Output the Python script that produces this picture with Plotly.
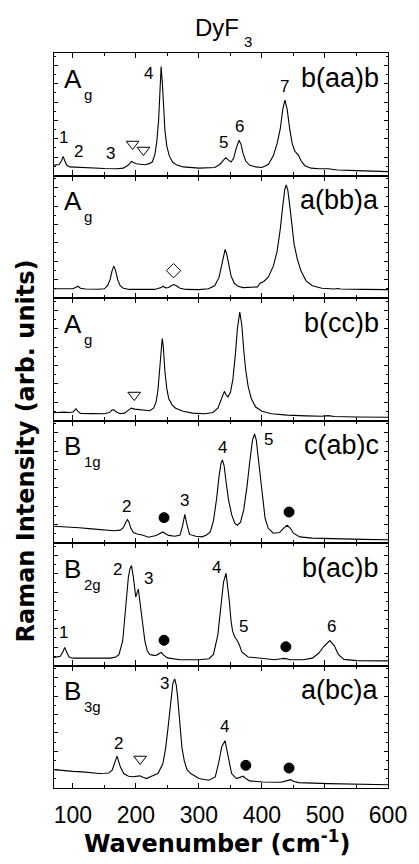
import plotly.graph_objects as go
from plotly.subplots import make_subplots

# ---------------- data (wavenumber cm^-1, intensity in arb. units, per panel 0-100) ----------------
spec_aa = [(70, 8.5), (78, 9), (82, 12), (84.5, 15.6), (87, 12), (90, 8.5), (95, 7), (110, 6.5), (130, 6),
           (150, 5.7), (170, 5.5), (180, 6), (188, 8.5), (193, 11.5), (197, 10.5), (201, 9.6), (207, 9.2),
           (214, 8.8), (220, 9.5), (226, 11), (230, 17), (233, 27), (236, 45), (238, 64), (240, 89), (242, 75),
           (244, 53), (246, 37), (249, 24), (253, 16), (258, 11), (265, 8.5), (275, 7), (300, 6), (325, 6.5),
           (333, 9), (338, 12), (342.5, 14.5), (347, 12.5), (351, 11), (355, 14), (359, 22), (363.8, 28.8),
           (367, 25), (370, 18), (374, 12), (380, 8.5), (390, 7), (400, 6.5), (410, 9), (418, 16), (424, 26),
           (429, 38), (433, 54), (436.5, 61.6), (440, 54), (444, 38), (448, 26), (452, 20), (456, 17),
           (458, 16.5), (462, 12), (468, 8), (478, 6), (490, 5.5), (505, 5.5), (520, 4.5), (550, 4),
           (575, 3.5), (600, 3.2)]

spec_bb = [(70, 7.5), (90, 7.3), (100, 7.5), (104, 8.5), (108, 9.6), (112, 8), (120, 7.3), (140, 7.2),
           (150, 7.5), (155, 10), (159, 15), (162, 22), (165, 26), (168, 22), (171, 15), (175, 10), (180, 8),
           (190, 7), (210, 6.8), (230, 7), (240, 8.5), (243, 9.6), (247, 8.3), (252, 8.6), (256, 10),
           (260, 11), (264, 10), (270, 8), (280, 7), (300, 6.8), (315, 7.5), (325, 10), (332, 17), (336, 27),
           (339, 36), (341.5, 39.7), (344, 36), (347, 27), (351, 18), (356, 12), (362, 9.5), (370, 8.5),
           (385, 8.5), (393, 9), (397, 12), (403, 13.5), (410, 17), (418, 26), (424, 38), (429, 56),
           (433, 75), (436, 88), (438.5, 92.3), (441, 88), (444, 76), (447, 60), (451, 44), (456, 32),
           (462, 22), (470, 14), (480, 10), (495, 8), (515, 7.3), (520, 7.8), (525, 7.3), (560, 7), (600, 6.8)]

spec_cc = [(70, 6.3), (85, 6.8), (95, 6.5), (100, 7), (103, 8.5), (105, 9.6), (108, 7.5), (112, 5.8),
           (130, 5.6), (150, 5.5), (158, 6.5), (162, 8.5), (165, 8.8), (169, 7), (175, 5.5), (182, 6),
           (188, 8.5), (193, 10.1), (198, 9.3), (205, 8.8), (214, 8.3), (222, 8), (228, 10), (232, 15),
           (235, 25), (238, 45), (240, 62), (241.7, 67), (243.5, 60), (246, 40), (249, 26), (252, 18),
           (257, 13), (263, 10), (275, 7.5), (290, 6), (310, 5.5), (322, 6.5), (330, 10), (335, 17),
           (338, 22), (340.4, 23.8), (343, 21), (346, 19.2), (350, 23), (354, 34), (358, 55), (361, 75),
           (364.8, 88.5), (368, 78), (371, 58), (374, 42), (378, 28), (383, 18), (390, 11), (400, 7.5),
           (415, 5.5), (440, 4.4), (470, 3.8), (495, 3.5), (505, 4), (515, 3.3), (550, 2.9), (600, 2.7)]

spec_ab = [(70, 13.7), (90, 13.3), (110, 12.5), (130, 11.5), (150, 10.5), (165, 10), (175, 10.5),
           (180, 12.5), (184, 17), (186.7, 19.2), (189, 17), (192, 12), (196, 8.5), (202, 7.3), (210, 6.5),
           (220, 4.7), (232, 6.2), (238, 7.5), (242.8, 9), (247, 7.5), (252, 6.2), (262, 5.5), (270, 6.5),
           (274, 14), (277.6, 23.3), (281, 15), (285, 7), (295, 5.5), (305, 5), (312, 6.5), (318, 9),
           (323, 18), (328, 36), (332, 55), (335, 65), (337.3, 67.7), (340, 63), (343, 50), (347, 35),
           (352, 23), (357, 16), (361, 14.5), (366, 17), (371, 27), (376, 45), (381, 68), (385, 84),
           (388.2, 89), (391, 84), (394, 70), (397, 55), (401, 35), (405, 20), (410, 12), (418, 8),
           (428, 8.5), (434, 12), (440, 14.5), (445, 12), (450, 8), (460, 5), (480, 4), (520, 3.3),
           (560, 3), (600, 2.7)]

spec_ac = [(70, 6.6), (80, 7.5), (84, 11), (87, 14.8), (90, 11), (94, 7), (100, 6), (130, 5.8), (160, 6),
           (168, 7), (173, 8.8), (179, 20), (184, 47), (188, 72), (190.5, 79), (193, 81.6), (196, 72),
           (199.7, 56), (203.8, 62.4), (206.5, 52), (209, 42), (212, 30), (214.2, 20), (218, 12), (222, 9),
           (228, 8.3), (233, 8.5), (237, 9.8), (240.2, 10.7), (244, 8.5), (250, 6.2), (270, 4.7), (300, 4.7),
           (316, 5.5), (323, 9), (330, 25), (335, 48), (339, 68), (343, 75.3), (346, 64), (348.2, 52.7),
           (351, 36), (353.4, 28), (357, 23), (360, 21), (364, 17), (368, 11), (378, 7), (400, 5.5),
           (420, 4.7), (430, 5.5), (436.4, 5.8), (445, 4.7), (465, 4.7), (480, 6), (490, 10), (498, 15.5),
           (507.6, 20.3), (515, 16), (521, 9), (530, 5), (550, 4), (600, 3.8)]

spec_bc = [(70, 15), (85, 14.2), (100, 13.6), (115.6, 13.2), (130, 12.5), (141.5, 11.8), (150, 12),
           (157, 12.3), (162.3, 14.5), (166, 20), (170, 26), (173, 21), (175.3, 17.3), (180.5, 11.8),
           (188.3, 9.6), (195, 9.2), (200, 9.5), (206.4, 9.9), (212, 8.5), (216.8, 7.7), (224.6, 9.6),
           (235, 11.8), (242.8, 20), (247, 32), (250.6, 47.4), (253.5, 63), (255.8, 74.8), (258.5, 85),
           (261.5, 89), (264, 84), (266.1, 74.8), (268.5, 60), (270.3, 47.4), (273, 33), (276.5, 22.7),
           (281, 15), (287, 11.8), (300, 7.7), (315.5, 6.3), (325.9, 9), (331.1, 20), (336.2, 33.7),
           (341.4, 38.6), (346.6, 25.5), (351.8, 11.8), (359.6, 7.7), (365, 8.5), (370, 9.6), (375, 7.5),
           (380.4, 5.8), (401.1, 4.9), (430, 4.7), (440, 6), (445.3, 6.8), (450, 5.5), (458.3, 4.4),
           (505, 3.6), (550, 3), (600, 2.7)]

spectra = [spec_aa, spec_bb, spec_cc, spec_ab, spec_ac, spec_bc]
geometry = ["b(aa)b", "a(bb)a", "b(cc)b", "c(ab)c", "b(ac)b", "a(bc)a"]
sym_main = ["A", "A", "A", "B", "B", "B"]
sym_sub = ["g", "g", "g", "1g", "2g", "3g"]

# peak numbers: (text, wavenumber, intensity)
peak_labels = [
    [("1", 84.5, 31.2), ("2", 109.4, 19.2), ("3", 158.9, 18.1), ("4", 219.6, 82.9),
     ("5", 339.2, 26.8), ("6", 364.1, 39.8), ("7", 435.8, 72.5)],
    [],
    [],
    [("2", 185.8, 30), ("3", 277.8, 34.3), ("4", 336.6, 77.8), ("5", 410.9, 84.3)],
    [("1", 84.5, 26.8), ("2", 170.2, 78.5), ("3", 219.6, 71.2), ("4", 327.7, 79.8),
     ("5", 370.4, 32.2), ("6", 509.6, 32.2)],
    [("2", 171.8, 36.7), ("3", 244.6, 85.7), ("4", 340.8, 50.4)],
]

# symbol marks: (symbol, wavenumber, intensity)
symbol_marks = [
    [("triangle-down-open", 194.7, 25.7), ("triangle-down-open", 211.9, 20.8)],
    [("diamond-open", 259.7, 22.3)],
    [("triangle-down-open", 197.3, 20.8)],
    [("circle", 244.6, 20.7), ("circle", 443, 25.3)],
    [("circle", 244.6, 20.6), ("circle", 437.9, 15.3)],
    [("triangle-down-open", 206.7, 23.7), ("circle", 374.4, 18.5), ("circle", 443, 16.3)],
]

x_ticks = [100, 200, 300, 400, 500, 600]
x_minor = [150, 250, 350, 450, 550]

# ---------------- figure ----------------
FONT = "Liberation Sans, Arial, Helvetica, sans-serif"
BOLD = "DejaVu Sans, Liberation Sans, Arial, sans-serif"

fig = make_subplots(rows=6, cols=1, shared_xaxes=True, vertical_spacing=0)

for i, spec in enumerate(spectra):
    row = i + 1
    xs = [p[0] for p in spec]
    ys = [p[1] for p in spec]
    fig.add_trace(go.Scatter(x=xs, y=ys, mode="lines", line=dict(color="black", width=1.1),
                             hoverinfo="skip", showlegend=False), row=row, col=1)
    for sym, sx, sy in symbol_marks[i]:
        size = 10 if sym == "circle" else 11
        fig.add_trace(go.Scatter(x=[sx], y=[sy], mode="markers",
                                 marker=dict(symbol=sym, size=size, color="black",
                                             line=dict(color="black", width=1)),
                                 hoverinfo="skip", showlegend=False), row=row, col=1)

    suffix = "" if row == 1 else str(row)
    xr, yr = "x" + suffix, "y" + suffix
    fig.add_annotation(x=82.5, y=79, xref=xr, yref=yr, text=sym_main[i], showarrow=False,
                       xanchor="left", yanchor="middle", font=dict(family=FONT, size=26, color="black"))
    fig.add_annotation(x=114, y=66.5, xref=xr, yref=yr, text=sym_sub[i], showarrow=False,
                       xanchor="left", yanchor="middle", font=dict(family=FONT, size=15, color="black"))
    fig.add_annotation(x=589, y=80, xref=xr, yref=yr, text=geometry[i], showarrow=False,
                       xanchor="right", yanchor="middle", font=dict(family=FONT, size=27, color="black"))
    for txt, lx, ly in peak_labels[i]:
        fig.add_annotation(x=lx, y=ly, xref=xr, yref=yr, text=txt, showarrow=False,
                           xanchor="center", yanchor="middle",
                           font=dict(family=FONT, size=17, color="black"))

for row in range(1, 7):
    fig.update_xaxes(range=[70, 600], tickvals=x_ticks, ticks="inside", ticklen=5, tickwidth=1,
                     tickcolor="black", showline=True, linecolor="black", linewidth=1.2,
                     mirror="ticks", showgrid=False, zeroline=False,
                     minor=dict(tickvals=x_minor, ticks="inside", ticklen=3,
                                tickcolor="black", showgrid=False),
                     showticklabels=(row == 6), row=row, col=1)
    fig.update_yaxes(range=[0, 100], tick0=0, dtick=15, ticks="inside", ticklen=4, tickwidth=1,
                     tickcolor="black", showline=True, linecolor="black", linewidth=1.2,
                     mirror="ticks", showgrid=False, zeroline=False, showticklabels=False,
                     minor=dict(dtick=7.5, ticks="inside", ticklen=2, tickcolor="black", showgrid=False),
                     row=row, col=1)

fig.update_xaxes(tickfont=dict(family=FONT, size=23, color="black"), ticklabelstandoff=6, row=6, col=1)

# titles (paper coordinates; plot area spans y 53..788 px, x 54..394 px)
fig.add_annotation(x=(220 - 54) / 340, y=(788 - 27) / 735, xref="paper", yref="paper",
                   text="DyF", showarrow=False, xanchor="center", yanchor="middle",
                   font=dict(family=FONT, size=24, color="black"))
fig.add_annotation(x=(245 - 54) / 340, y=(788 - 42) / 735, xref="paper", yref="paper",
                   text="3", showarrow=False, xanchor="left", yanchor="middle",
                   font=dict(family=FONT, size=15, color="black"))
fig.add_annotation(x=(220 - 54) / 340, y=(788 - 842) / 735, xref="paper", yref="paper",
                   text="<b>Wavenumber (cm<sup>-1</sup>)</b>", showarrow=False,
                   xanchor="center", yanchor="middle", font=dict(family=BOLD, size=24, color="black"))
fig.add_annotation(x=(25 - 54) / 340, y=(788 - 451) / 735, xref="paper", yref="paper",
                   text="<b>Raman Intensity (arb. units)</b>", showarrow=False, textangle=-90,
                   xanchor="center", yanchor="middle", font=dict(family=BOLD, size=24, color="black"))

fig.update_layout(width=419, height=864, margin=dict(l=54, r=25, t=53, b=76),
                  paper_bgcolor="white", plot_bgcolor="white", showlegend=False)

fig.write_html("out.html")
